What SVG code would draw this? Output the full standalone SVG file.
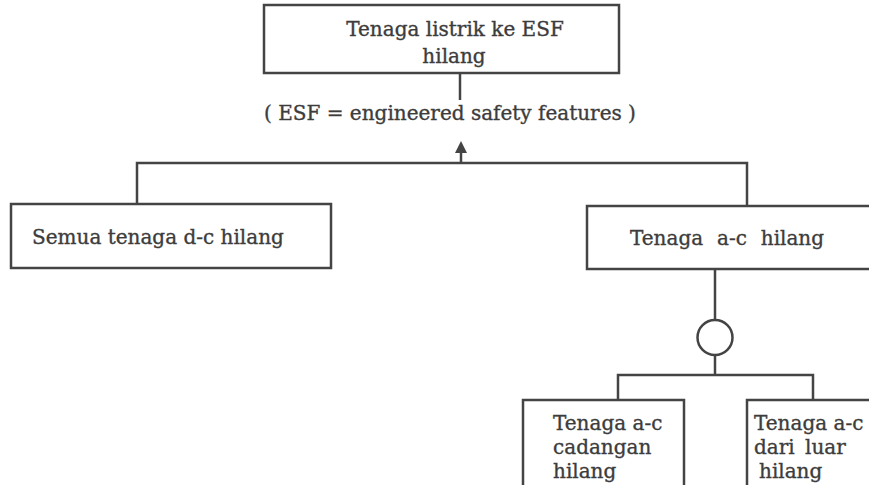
<svg xmlns="http://www.w3.org/2000/svg" width="869" height="485" viewBox="0 0 869 485">
<style>
.box{fill:#fff;stroke:#444;stroke-width:2.5}
.ln{fill:none;stroke:#444;stroke-width:2.5}
text{font-family:"DejaVu Serif","Liberation Serif",serif;font-size:20px;fill:#3c3c3c;stroke:#3c3c3c;stroke-width:0.35}
</style>
<rect width="869" height="485" fill="#fff"/>
<g id="connectors">
<line class="ln" x1="460" y1="73" x2="460" y2="100"/>
<polyline class="ln" points="137,204 137,163 747,163 747,206"/>
<line class="ln" x1="461" y1="163" x2="461" y2="150"/>
<polygon points="461,141 455,153 467,153" fill="#444"/>
<line class="ln" x1="715" y1="269" x2="715" y2="320"/>
<circle class="ln" cx="715" cy="337.5" r="17.5"/>
<line class="ln" x1="715" y1="355" x2="715" y2="375"/>
<polyline class="ln" points="618,400 618,375 813,375 813,400"/>
</g>
<g id="top">
<rect class="box" x="264" y="5" width="355" height="68"/>
<text x="455" y="36" text-anchor="middle">Tenaga listrik ke ESF</text>
<text x="454" y="63" text-anchor="middle">hilang</text>
</g>
<g id="note">
<text x="450" y="120" text-anchor="middle">( ESF = engineered safety features )</text>
</g>
<g id="dc">
<rect class="box" x="11" y="204" width="320" height="64"/>
<text x="32" y="244">Semua tenaga d-c hilang</text>
</g>
<g id="ac">
<rect class="box" x="587" y="206" width="300" height="63"/>
<text x="630" y="245" word-spacing="7.5">Tenaga a-c hilang</text>
</g>
<g id="cadangan">
<rect class="box" x="523" y="400" width="161" height="100"/>
<text x="553" y="430">Tenaga a-c</text>
<text x="553" y="454">cadangan</text>
<text x="553" y="478">hilang</text>
</g>
<g id="luar">
<rect class="box" x="747" y="400" width="140" height="100"/>
<text x="754" y="430">Tenaga a-c</text>
<text x="754" y="454" word-spacing="4">dari luar</text>
<text x="759" y="478">hilang</text>
</g>
</svg>
